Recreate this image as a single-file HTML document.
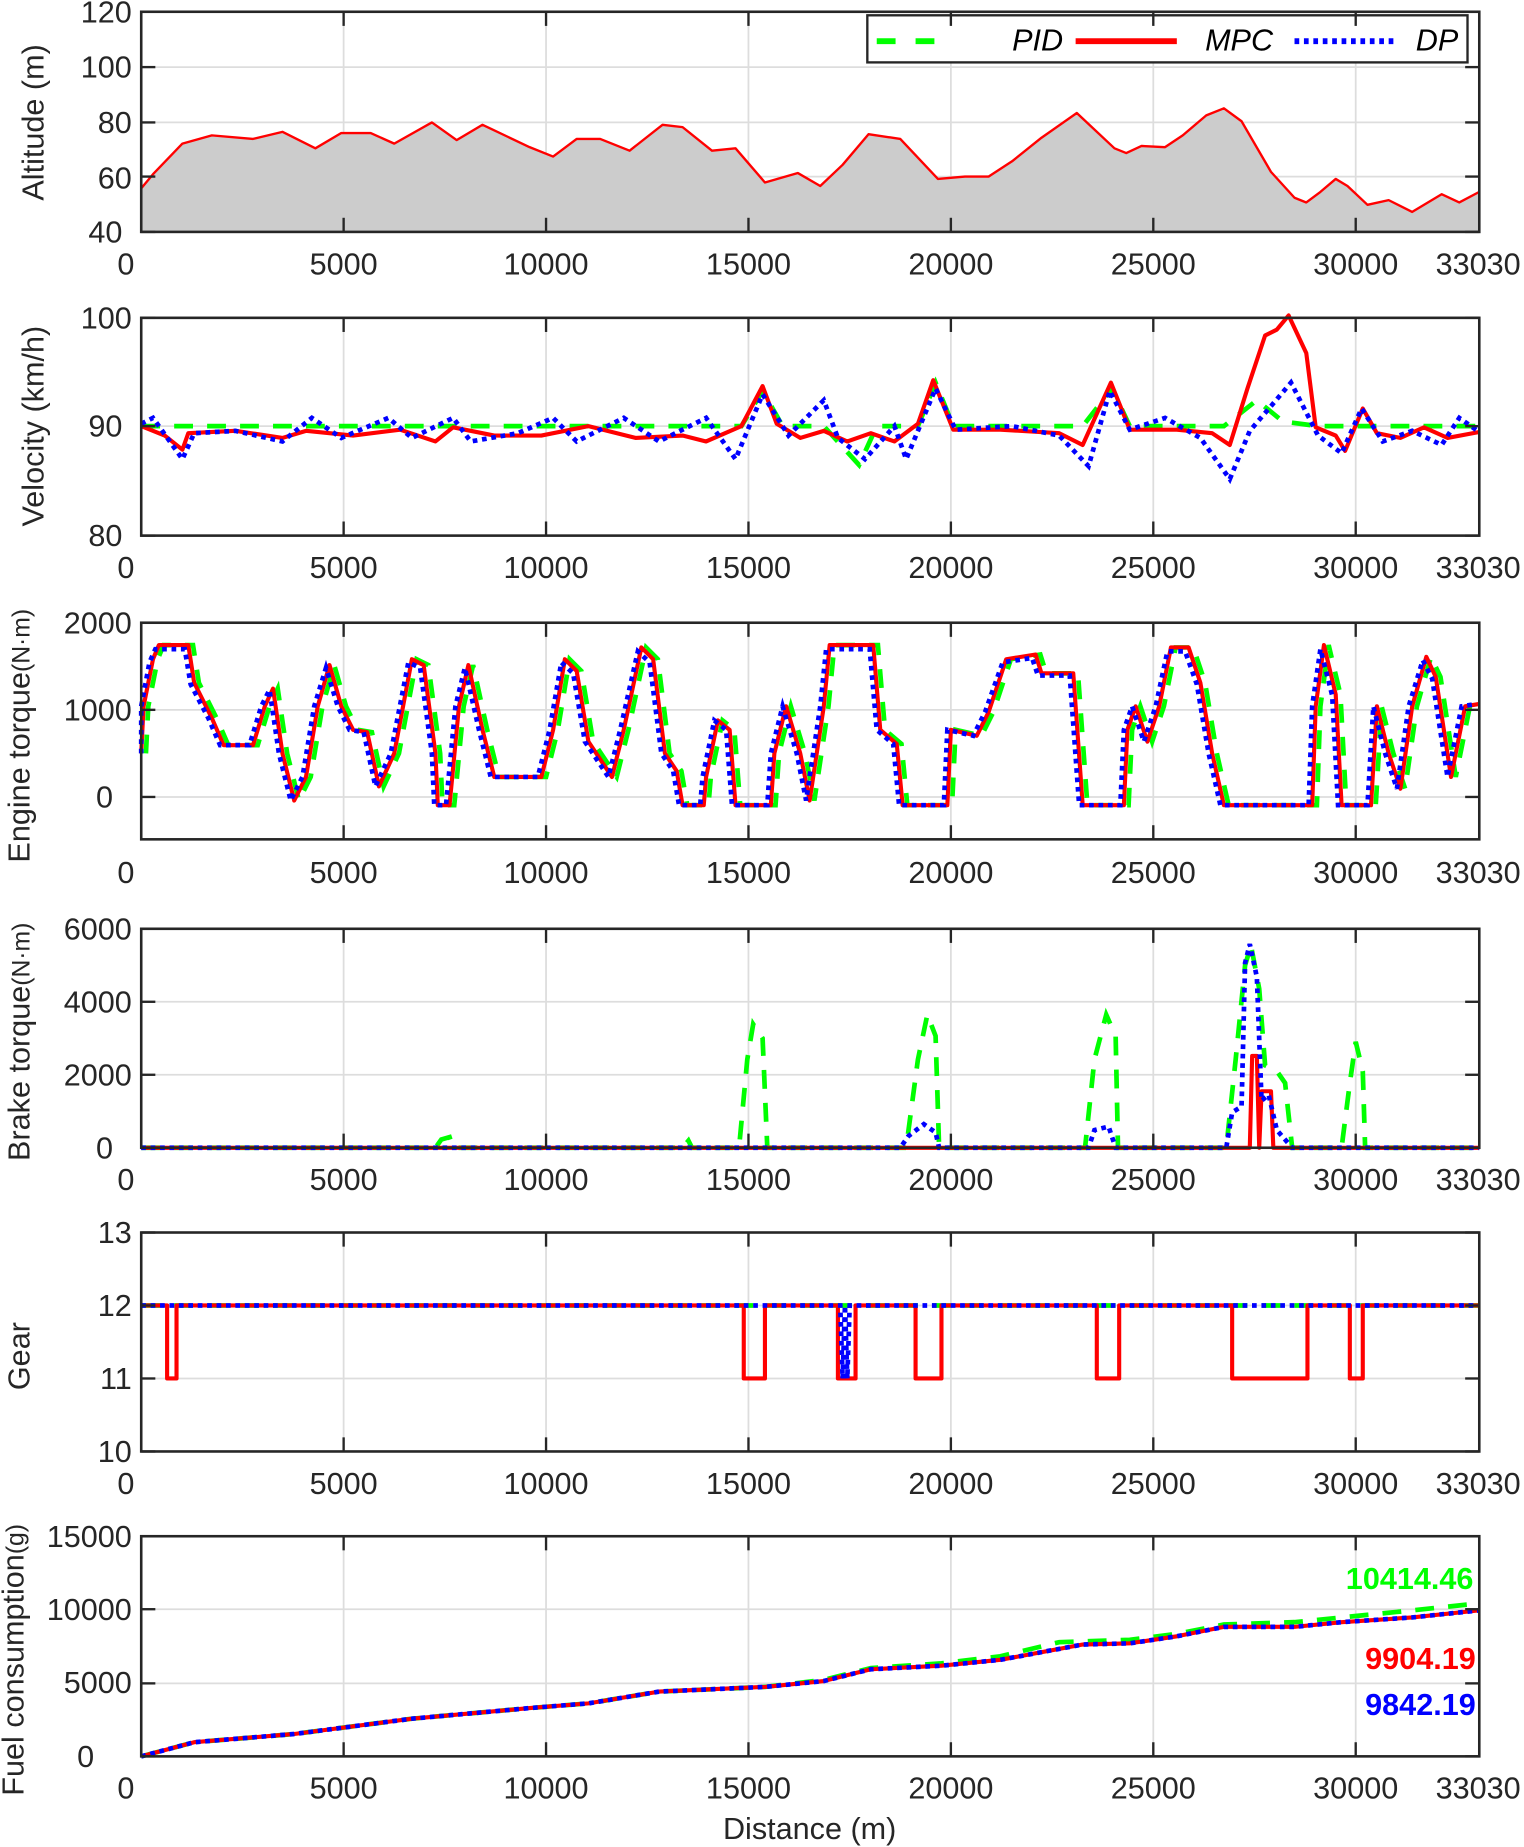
<!DOCTYPE html>
<html><head><meta charset="utf-8"><style>
html,body{margin:0;padding:0;background:#fff}
svg{display:block}
text{font-family:"Liberation Sans",sans-serif;fill:#262626}
.t{font-size:26px}
.yl{font-size:26px}
.pid{fill:none;stroke:#00ff00;stroke-width:4;stroke-dasharray:16 12}
.mpc{fill:none;stroke:#ff0000;stroke-width:3.5;stroke-linejoin:round}
.dp{fill:none;stroke:#0000ff;stroke-width:4;stroke-dasharray:4 4}
</style></head><body>
<svg width="1524" height="1847" viewBox="0 0 1295 1569" preserveAspectRatio="none" xmlns="http://www.w3.org/2000/svg">
<g id="grid"></g>
<polygon fill="#cccccc" points="120,197 120,160 130,148 155,122 180,115 215,118 240,112 268,126 290,113 315,113 335,122 367,104 388,119 410,106 450,125 470,133 490,118 510,118 535,128 563,106 580,108 605,128 625,126 650,155 678,147 697,158 716,140 738,114 765,118 797,152 820,150 840,150 860,137 885,117 915,96 947,126 957,130 970,124 990,125 1005,115 1025,98 1040,92 1055,103 1080,146 1100,168 1110,172 1122,163 1135,152 1145,158 1162,174 1180,170 1200,180 1225,165 1240,172 1257,163 1257,197"/>
<polyline class="mpc" style="stroke-width:2" points="120,160 130,148 155,122 180,115 215,118 240,112 268,126 290,113 315,113 335,122 367,104 388,119 410,106 450,125 470,133 490,118 510,118 535,128 563,106 580,108 605,128 625,126 650,155 678,147 697,158 716,140 738,114 765,118 797,152 820,150 840,150 860,137 885,117 915,96 947,126 957,130 970,124 990,125 1005,115 1025,98 1040,92 1055,103 1080,146 1100,168 1110,172 1122,163 1135,152 1145,158 1162,174 1180,170 1200,180 1225,165 1240,172 1257,163"/>
<rect x="737" y="13" width="510" height="40" fill="#fff" stroke="#262626" stroke-width="2"/>
<line x1="745" y1="35" x2="808" y2="35" stroke="#00ff00" stroke-width="5" stroke-dasharray="16 17"/>
<text x="860" y="43" class="t" style="font-style:italic;fill:#000">PID</text>
<line x1="914" y1="35" x2="1000" y2="35" stroke="#ff0000" stroke-width="5"/>
<text x="1024" y="43" class="t" style="font-style:italic;fill:#000">MPC</text>
<line x1="1100" y1="35" x2="1184" y2="35" stroke="#0000ff" stroke-width="5" stroke-dasharray="4 4"/>
<text x="1203" y="43" class="t" style="font-style:italic;fill:#000">DP</text>

<polyline class="pid" points="120,362 630,362 648,332 665,362 700,362 730,395 745,362 780,362 795,325 810,362 920,362 945,330 960,362 1040,362 1068,340 1090,358 1120,362 1257,362"/>
<polyline class="mpc" points="120,362 140,370 155,382 160,368 200,366 240,372 260,366 300,370 340,365 370,375 385,363 420,370 460,370 500,362 540,372 580,370 600,375 630,362 648,328 660,360 680,372 700,366 720,375 740,368 760,375 780,360 793,323 810,365 850,365 900,368 920,378 944,325 960,365 1000,365 1030,368 1045,378 1060,330 1075,285 1085,280 1095,268 1110,300 1118,363 1135,370 1143,383 1158,347 1170,368 1190,372 1210,363 1230,372 1257,367"/>
<polyline class="dp" points="120,360 130,355 155,390 165,368 200,366 240,375 265,355 290,372 330,355 350,372 385,355 400,375 440,368 470,355 490,375 530,355 560,375 600,355 625,390 648,335 670,370 700,340 712,372 735,390 760,362 770,390 795,330 812,365 860,362 900,370 925,396 943,332 960,365 990,355 1020,372 1045,407 1062,366 1080,345 1097,325 1120,370 1140,385 1157,347 1175,375 1200,366 1225,378 1240,355 1257,367"/>

<g id="eng"></g>

<polyline class="pid" points="120,975 370,975 375,968 382,966 385,975 580,975 585,969 588,975 628,975 635,900 640,870 648,882 652,975 770,975 780,900 788,862 795,880 798,975 922,975 930,900 940,862 948,880 950,975 1042,975 1050,900 1058,820 1063,803 1070,840 1075,905 1085,910 1092,920 1098,975 1140,975 1147,920 1152,885 1158,910 1160,975 1257,975"/>
<polyline class="mpc" points="120,975 1062,975 1064,897 1068,897 1070,975 1072,927 1080,927 1082,975 1257,975"/>
<polyline class="dp" points="120,975 765,975 772,965 785,955 795,962 798,975 925,975 930,960 942,957 948,975 1042,975 1047,945 1055,940 1058,818 1062,802 1068,830 1072,935 1078,930 1085,960 1098,975 1257,975"/>

<polyline class="pid" points="120,1109 1257,1109"/>
<polyline class="mpc" points="120,1109 142,1109 142,1171 150,1171 150,1109 632,1109 632,1171 650,1171 650,1109 712,1109 712,1171 727,1171 727,1109 778,1109 778,1171 800,1171 800,1109 932,1109 932,1171 951,1171 951,1109 1047,1109 1047,1171 1111,1171 1111,1109 1147,1109 1147,1171 1158,1171 1158,1109 1257,1109"/>
<polyline class="dp" points="120,1109 714,1109 716,1171 718,1109 720,1171 722,1109 1257,1109"/>

<polyline class="pid" points="120,1492 165,1480 250,1473 350,1460 450,1451 500,1447 560,1437 650,1433 700,1427 740,1417 800,1413 850,1407 900,1395 960,1393 1000,1388 1040,1380 1100,1378 1150,1373 1200,1368 1257,1362"/>
<polyline class="mpc" points="120,1492 165,1480 250,1473 350,1460 450,1451 500,1447 560,1437 650,1433 700,1428 740,1418 800,1415 850,1410 920,1397 960,1396 1000,1390 1040,1382 1100,1382 1140,1378 1200,1374 1257,1368"/>
<polyline class="dp" points="120,1492 165,1480 250,1473 350,1460 450,1451 500,1447 560,1437 650,1433 700,1428 740,1418 800,1415 850,1410 920,1397 960,1396 1000,1390 1040,1382 1100,1382 1140,1378 1200,1374 1257,1368"/>
<text x="1252" y="1350" class="t" text-anchor="end" style="font-weight:bold;fill:#00ff00">10414.46</text>
<text x="1254" y="1418" class="t" text-anchor="end" style="font-weight:bold;fill:#ff0000">9904.19</text>
<text x="1254" y="1457" class="t" text-anchor="end" style="font-weight:bold;fill:#0000ff">9842.19</text>

<g id="frames"></g>

<g class="t" text-anchor="end">
<text x="112" y="19">120</text><text x="112" y="66">100</text><text x="112" y="113">80</text><text x="112" y="160">60</text><text x="104" y="206">40</text>
<text x="112" y="279">100</text><text x="104" y="371">90</text><text x="104" y="464">80</text>
<text x="112" y="538">2000</text><text x="112" y="612">1000</text><text x="96" y="686">0</text>
<text x="112" y="798">6000</text><text x="112" y="860">4000</text><text x="112" y="922">2000</text><text x="96" y="984">0</text>
<text x="112" y="1056">13</text><text x="112" y="1118">12</text><text x="112" y="1180">11</text><text x="112" y="1242">10</text>
<text x="112" y="1314">15000</text><text x="112" y="1376">10000</text><text x="112" y="1438">5000</text><text x="80" y="1501">0</text>
</g>
<g class="yl" text-anchor="middle">
<text transform="translate(37,104) rotate(-90)">Altitude (m)</text>
<text transform="translate(37,362) rotate(-90)">Velocity (km/h)</text>
<text transform="translate(25,625) rotate(-90)">Engine torque<tspan style="font-size:21px">(N·m)</tspan></text>
<text transform="translate(25,885) rotate(-90)">Brake torque<tspan style="font-size:21px">(N·m)</tspan></text>
<text transform="translate(25,1152) rotate(-90)">Gear</text>
<text transform="translate(20,1410) rotate(-90)">Fuel consumption<tspan style="font-size:21px">(g)</tspan></text>
</g>
<text x="688" y="1562" class="yl" text-anchor="middle">Distance (m)</text>

<g class="t" text-anchor="middle">
<text x="107" y="233">0</text><text x="292" y="233">5000</text><text x="464" y="233">10000</text><text x="636" y="233">15000</text><text x="808" y="233">20000</text><text x="980" y="233">25000</text><text x="1152" y="233">30000</text><text x="1256" y="233">33030</text>
<text x="107" y="491">0</text><text x="292" y="491">5000</text><text x="464" y="491">10000</text><text x="636" y="491">15000</text><text x="808" y="491">20000</text><text x="980" y="491">25000</text><text x="1152" y="491">30000</text><text x="1256" y="491">33030</text>
<text x="107" y="750">0</text><text x="292" y="750">5000</text><text x="464" y="750">10000</text><text x="636" y="750">15000</text><text x="808" y="750">20000</text><text x="980" y="750">25000</text><text x="1152" y="750">30000</text><text x="1256" y="750">33030</text>
<text x="107" y="1011">0</text><text x="292" y="1011">5000</text><text x="464" y="1011">10000</text><text x="636" y="1011">15000</text><text x="808" y="1011">20000</text><text x="980" y="1011">25000</text><text x="1152" y="1011">30000</text><text x="1256" y="1011">33030</text>
<text x="107" y="1269">0</text><text x="292" y="1269">5000</text><text x="464" y="1269">10000</text><text x="636" y="1269">15000</text><text x="808" y="1269">20000</text><text x="980" y="1269">25000</text><text x="1152" y="1269">30000</text><text x="1256" y="1269">33030</text>
<text x="107" y="1528">0</text><text x="292" y="1528">5000</text><text x="464" y="1528">10000</text><text x="636" y="1528">15000</text><text x="808" y="1528">20000</text><text x="980" y="1528">25000</text><text x="1152" y="1528">30000</text><text x="1256" y="1528">33030</text>
</g>
</svg>
<script>
var NS="http://www.w3.org/2000/svg";
function el(p,t,a){var e=document.createElementNS(NS,t);for(var k in a)e.setAttribute(k,a[k]);p.appendChild(e);return e;}
var panels=[[10,197],[270,455],[529,713],[789,975],[1047,1233],[1305,1492]];
var allY=[[10,57,104,150,197],[270,362,455],[529,603,677],[789,851,913,975],[1047,1109,1171,1233],[1305,1367,1430,1492]];
var xs=[292,464,636,808,980,1152];
var g=document.getElementById('grid'),f=document.getElementById('frames');
panels.forEach(function(p,i){
  xs.forEach(function(x){el(g,'line',{x1:x,x2:x,y1:p[0],y2:p[1],stroke:'#dddddd','stroke-width':1.5});
    el(f,'line',{x1:x,x2:x,y1:p[0],y2:p[0]+12,stroke:'#262626','stroke-width':2});
    el(f,'line',{x1:x,x2:x,y1:p[1],y2:p[1]-12,stroke:'#262626','stroke-width':2});});
  allY[i].forEach(function(y){el(g,'line',{x1:120,x2:1257,y1:y,y2:y,stroke:'#dddddd','stroke-width':1.5});
    el(f,'line',{x1:120,x2:132,y1:y,y2:y,stroke:'#262626','stroke-width':2});
    el(f,'line',{x1:1257,x2:1245,y1:y,y2:y,stroke:'#262626','stroke-width':2});});
  el(f,'rect',{x:120,y:p[0],width:1137,height:p[1]-p[0],fill:'none',stroke:'#262626','stroke-width':2.2});
});
var eng=[[120,640],[122,600],[130,560],[135,548],[160,548],[165,580],[180,610],[190,633],[215,633],[225,600],[232,585],[240,640],[250,680],[260,660],[270,600],[280,565],[290,600],[300,620],[312,622],[322,668],[335,640],[350,560],[360,565],[370,640],[372,684],[382,684],[390,600],[398,565],[410,620],[420,660],[460,660],[470,620],[480,560],[490,570],[500,630],[520,660],[530,620],[545,550],[555,560],[565,640],[575,655],[580,684],[598,684],[600,660],[610,612],[620,620],[625,684],[655,684],[658,640],[668,600],[680,640],[688,680],[700,600],[705,548],[742,548],[748,620],[762,632],[767,684],[805,684],[808,620],[830,625],[840,605],[855,560],[880,556],[885,572],[912,572],[920,684],[955,684],[958,620],[965,600],[975,630],[985,600],[995,550],[1010,550],[1020,580],[1030,640],[1040,684],[1115,684],[1118,600],[1125,548],[1135,590],[1140,684],[1165,684],[1170,600],[1180,640],[1190,670],[1200,600],[1212,558],[1220,575],[1233,660],[1245,600],[1257,598]];
var ge=document.getElementById('eng');
function pts(dx,dy){return eng.map(function(q){var y=q[1];if(dy&&y<600)y=y+dy*(600-y)/60;return Math.min(1257,Math.max(120,q[0]+dx))+','+y;}).join(' ');}
el(ge,'polyline',{'class':'pid',points:pts(4,0)});
el(ge,'polyline',{'class':'mpc',points:pts(0,0)});
el(ge,'polyline',{'class':'dp',points:pts(-3,4)});
</script>
</body></html>
